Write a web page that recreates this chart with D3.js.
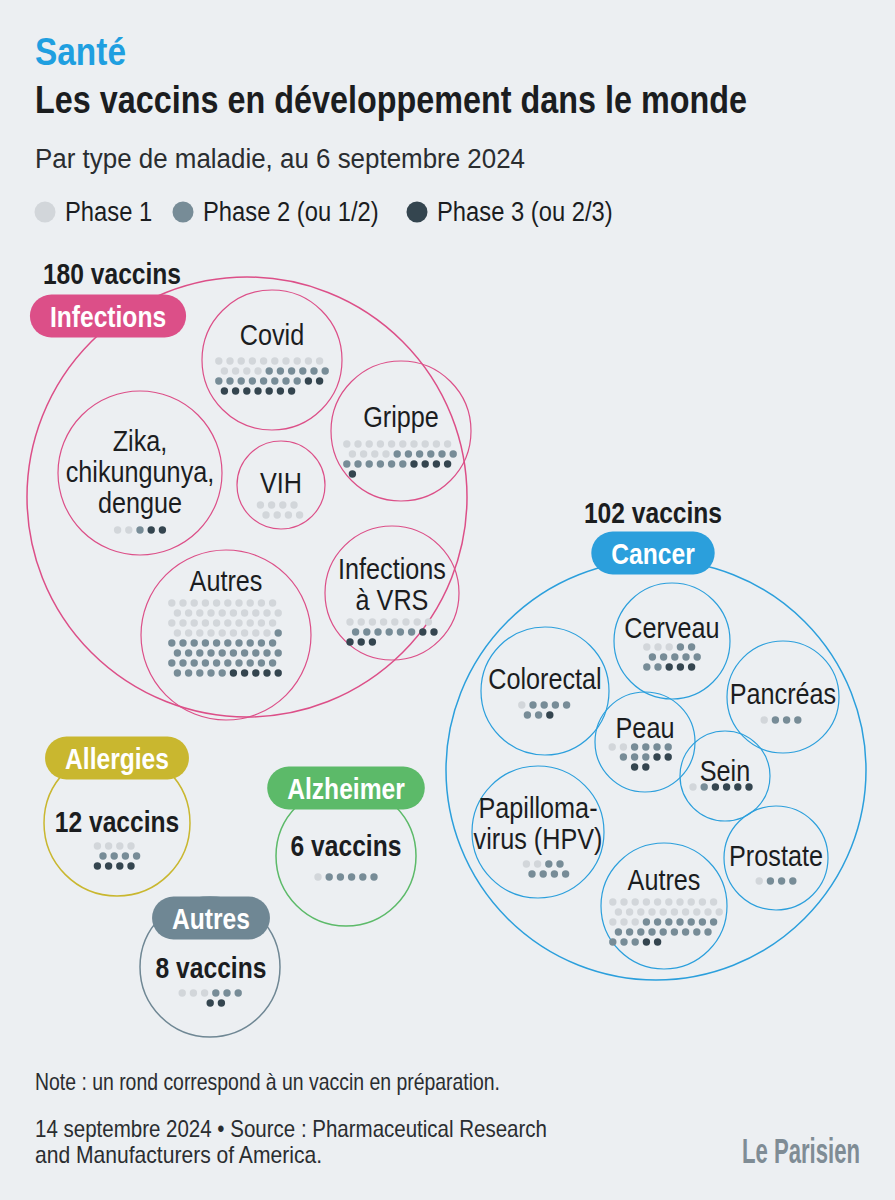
<!DOCTYPE html>
<html lang="fr">
<head>
<meta charset="utf-8">
<script src="https://cdn.jsdelivr.net/npm/d3@7"></script>
<style>
  body { margin: 0; background: #eceff2; }
  svg { display: block; font-family: "Liberation Sans", Arial, sans-serif; }
</style>
</head>
<body>
<div id="chart"></div>
<script>
///////////////////////////////////////////////////////////////////////////////
//// Data /////////////////////////////////////////////////////////////////////
///////////////////////////////////////////////////////////////////////////////
const phases = ["Phase 1", "Phase 2 (ou 1/2)", "Phase 3 (ou 2/3)"];

const groups = ["Infections", "Cancer", "Allergies", "Alzheimer", "Autres"];
const groupTotals = [180, 102, 12, 6, 8];

// Sub-categories of the two big groups
const diseases = ["Covid", "Grippe", "Zika, chikungunya, dengue", "VIH", "Autres", "Infections à VRS",
  "Cerveau", "Colorectal", "Pancréas", "Peau", "Sein", "Papillomavirus (HPV)", "Prostate", "Autres"];
const diseaseGroups = ["Infections", "Infections", "Infections", "Infections", "Infections", "Infections",
  "Cancer", "Cancer", "Cancer", "Cancer", "Cancer", "Cancer", "Cancer", "Cancer"];
const phase1 = [14, 14, 2, 8, 39, 8, 3, 1, 1, 2, 1, 2, 1, 23];
const phase2 = [14, 12, 1, 0, 36, 6, 9, 6, 3, 7, 1, 6, 3, 19];
const phase3 = [9, 5, 2, 0, 5, 5, 3, 1, 0, 4, 4, 0, 0, 2];

// Groups without sub-categories
const smallGroups = ["Allergies", "Alzheimer", "Autres"];
const smallPhase1 = [4, 1, 3];
const smallPhase2 = [4, 5, 3];
const smallPhase3 = [4, 0, 2];

///////////////////////////////////////////////////////////////////////////////
//// Layout ///////////////////////////////////////////////////////////////////
///////////////////////////////////////////////////////////////////////////////
const width = 895;
const height = 1200;
const narrow = 0.84; // horizontal squeeze to mimic the condensed house font

const groupLayout = {
  Infections: {cx: 247, cy: 497, r: 220, color: "#dc4f88", pill: [108, 316], total: [112, 284]},
  Cancer: {cx: 656, cy: 770, r: 210, color: "#2b9fdc", pill: [653, 553], total: [653, 523]},
  Allergies: {cx: 117, cy: 823, r: 73, color: "#c9b72f", pill: [117, 758], total: [117, 832], dotsY: 846, cols: 4},
  Alzheimer: {cx: 346, cy: 856, r: 70, color: "#5cba69", pill: [346, 788], total: [346, 856], dotsY: 877, cols: 6},
  Autres: {cx: 210, cy: 967, r: 70, color: "#6f8794", pill: [211, 918], total: [211, 978], dotsY: 993, cols: 6, align: "center", dotCx: 213}
};

// Same order as `diseases`
const diseaseLayout = [
  {cx: 272, cy: 360, r: 70, lines: ["Covid"], labelY: 345, dotsY: 361, cols: 10},
  {cx: 401, cy: 431, r: 70, lines: ["Grippe"], labelY: 427, dotsY: 444, cols: 10, dotCx: 400},
  {cx: 140, cy: 473, r: 82, lines: ["Zika,", "chikungunya,", "dengue"], labelY: 451, dotsY: 530, cols: 5},
  {cx: 281, cy: 485, r: 44, lines: ["VIH"], labelY: 493, dotsY: 505, cols: 4, dotCx: 280},
  {cx: 226, cy: 635, r: 85, lines: ["Autres"], labelY: 591, dotsY: 603, cols: 10, dotCx: 225},
  {cx: 392, cy: 593, r: 67, lines: ["Infections", "à VRS"], labelY: 579, dotsY: 622, cols: 8},
  {cx: 672, cy: 641, r: 58, lines: ["Cerveau"], labelY: 638, dotsY: 647, cols: 5},
  {cx: 545, cy: 691, r: 64, lines: ["Colorectal"], labelY: 689, dotsY: 705, cols: 5, dotCx: 547},
  {cx: 783, cy: 697, r: 56, lines: ["Pancréas"], labelY: 704, dotsY: 720, cols: 4, dotCx: 781},
  {cx: 645, cy: 742, r: 50, lines: ["Peau"], labelY: 738, dotsY: 747, cols: 6, dotCx: 643, rowSizes: [6, 5, 2], align: "center"},
  {cx: 725, cy: 776, r: 45, lines: ["Sein"], labelY: 781, dotsY: 787, cols: 6, dotCx: 721},
  {cx: 538, cy: 832, r: 66, lines: ["Papilloma-", "virus (HPV)"], labelY: 818, dotsY: 864, cols: 4, dotCx: 546},
  {cx: 776, cy: 858, r: 52, lines: ["Prostate"], labelY: 866, dotsY: 881, cols: 4},
  {cx: 664, cy: 906, r: 63, lines: ["Autres"], labelY: 890, dotsY: 902, cols: 10, dotCx: 666, rowSizes: [10, 10, 10, 9, 5]}
];

const dotStep = 11.2;   // horizontal spacing
const rowStep = 10;     // vertical spacing
const dotRadius = 3.7;
const lineHeight = 31;

const color = d3.scaleOrdinal()
  .domain(phases)
  .range(["#d2d6da", "#778c97", "#34454f"]);

const ink = "#1b1d1f";

///////////////////////////////////////////////////////////////////////////////
//// SVG ///////////////////////////////////////////////////////////////////////
///////////////////////////////////////////////////////////////////////////////
const svg = d3.select("#chart").append("svg")
  .attr("width", width)
  .attr("height", height);

svg.append("rect")
  .attr("width", width)
  .attr("height", height)
  .attr("fill", "#eceff2");

// Squeeze texts horizontally
function condense(sel, k = narrow) {
  sel.each(function() {
    const w = this.getComputedTextLength();
    this.__w = w * k;
    d3.select(this)
      .attr("textLength", w * k)
      .attr("lengthAdjust", "spacingAndGlyphs");
  });
  return sel;
}

/////////////////////////////////////////////////////////////////////////////
// Header
svg.append("text")
  .attr("x", 35)
  .attr("y", 65)
  .attr("fill", "#1f9fe0")
  .style("font-weight", "bold")
  .style("font-size", "38px")
  .attr("textLength", 91)
  .attr("lengthAdjust", "spacingAndGlyphs")
  .text("Santé");

svg.append("text")
  .attr("x", 35)
  .attr("y", 113)
  .attr("fill", ink)
  .style("font-weight", "bold")
  .style("font-size", "39px")
  .attr("textLength", 712)
  .attr("lengthAdjust", "spacingAndGlyphs")
  .text("Les vaccins en développement dans le monde");

svg.append("text")
  .attr("x", 35)
  .attr("y", 168)
  .attr("fill", "#2a2d30")
  .style("font-size", "27px")
  .attr("textLength", 490)
  .attr("lengthAdjust", "spacingAndGlyphs")
  .text("Par type de maladie, au 6 septembre 2024");

/////////////////////////////////////////////////////////////////////////////
// Legend
const legendX = [45, 183, 417];
const legend = svg.selectAll(".legend")
  .data(phases)
  .enter().append("g")
    .attr("class", "legend")
    .attr("transform", (d, i) => `translate(${legendX[i]}, 212)`);

legend.append("circle")
  .attr("r", 10.5)
  .attr("fill", d => color(d));

legend.append("text")
  .attr("x", 20)
  .attr("y", 9)
  .attr("fill", ink)
  .style("font-size", "27px")
  .text(d => d)
  .call(condense, 0.88);

/////////////////////////////////////////////////////////////////////////////
// Dots helper
function dotsFor(p1, p2, p3) {
  return [].concat(
    d3.range(p1).map(() => phases[0]),
    d3.range(p2).map(() => phases[1]),
    d3.range(p3).map(() => phases[2])
  );
}

function placeDots(dots, lay, cx) {
  const cols = lay.cols;
  let sizes = lay.rowSizes;
  if (!sizes) {
    sizes = [];
    for (let n = dots.length; n > 0; n -= cols) sizes.push(Math.min(cols, n));
  }
  const shift = sizes.length > 1 ? dotStep / 4 : 0;
  const x0 = cx - (cols - 1) / 2 * dotStep - shift;
  const out = [];
  let k = 0;
  sizes.forEach((inRow, row) => {
    let start = x0 + (row % 2 ? dotStep / 2 : 0);
    if (lay.align === "center" && inRow < cols) {
      start = cx - (inRow - 1) / 2 * dotStep + (row % 2 ? shift : -shift);
    }
    for (let c = 0; c < inRow && k < dots.length; c++, k++) {
      out.push({phase: dots[k], x: start + c * dotStep, y: lay.dotsY + row * rowStep});
    }
  });
  return out;
}

function drawDots(g, points) {
  g.selectAll(".dot")
    .data(points)
    .enter().append("circle")
      .attr("class", "dot")
      .attr("cx", d => d.x)
      .attr("cy", d => d.y)
      .attr("r", dotRadius)
      .attr("fill", d => color(d.phase));
}

/////////////////////////////////////////////////////////////////////////////
// Group circles
const groupG = svg.selectAll(".group")
  .data(groups)
  .enter().append("g")
    .attr("class", "group");

groupG.append("circle")
  .attr("cx", d => groupLayout[d].cx)
  .attr("cy", d => groupLayout[d].cy)
  .attr("r", d => groupLayout[d].r)
  .attr("fill", "none")
  .attr("stroke", d => groupLayout[d].color)
  .attr("stroke-width", 1.5);

/////////////////////////////////////////////////////////////////////////////
// Disease circles
const disease = svg.selectAll(".disease")
  .data(diseases.map((name, i) => ({
    name, group: diseaseGroups[i], lay: diseaseLayout[i],
    dots: dotsFor(phase1[i], phase2[i], phase3[i])
  })))
  .enter().append("g")
    .attr("class", "disease");

disease.append("circle")
  .attr("cx", d => d.lay.cx)
  .attr("cy", d => d.lay.cy)
  .attr("r", d => d.lay.r)
  .attr("fill", "none")
  .attr("stroke", d => groupLayout[d.group].color)
  .attr("stroke-width", 1.2);

disease.each(function(d) {
  const g = d3.select(this);
  g.selectAll(".label")
    .data(d.lay.lines)
    .enter().append("text")
      .attr("class", "label")
      .attr("x", d.lay.cx)
      .attr("y", (l, i) => d.lay.labelY + i * lineHeight)
      .attr("text-anchor", "middle")
      .attr("fill", ink)
      .style("font-size", "30px")
      .text(l => l)
      .call(condense);
  drawDots(g, placeDots(d.dots, d.lay, d.lay.dotCx || d.lay.cx));
});

/////////////////////////////////////////////////////////////////////////////
// Small groups: dots inside
smallGroups.forEach((name, i) => {
  const lay = groupLayout[name];
  const g = svg.append("g").attr("class", "small");
  drawDots(g, placeDots(dotsFor(smallPhase1[i], smallPhase2[i], smallPhase3[i]), lay, lay.dotCx || lay.cx));
});

// Totals
groupG.append("text")
  .attr("x", d => groupLayout[d].total[0])
  .attr("y", d => groupLayout[d].total[1])
  .attr("text-anchor", "middle")
  .attr("fill", ink)
  .style("font-weight", "bold")
  .style("font-size", "30px")
  .text((d, i) => `${groupTotals[i]} vaccins`)
  .call(condense, 0.82);

// Pills
groupG.each(function(d) {
  const lay = groupLayout[d];
  const g = d3.select(this).append("g")
    .attr("transform", `translate(${lay.pill[0]}, ${lay.pill[1]})`);
  const rect = g.append("rect");
  const t = g.append("text")
    .attr("y", 10.5)
    .attr("text-anchor", "middle")
    .attr("fill", "#fff")
    .style("font-weight", "bold")
    .style("font-size", "30px")
    .text(d)
    .call(condense, 0.82);
  const w = t.node().__w + 40;
  rect.attr("x", -w / 2)
    .attr("y", -21.5)
    .attr("width", w)
    .attr("height", 43)
    .attr("rx", 21.5)
    .attr("fill", lay.color);
});

/////////////////////////////////////////////////////////////////////////////
// Footer
const footer = [
  ["Note : un rond correspond à un vaccin en préparation.", 1090, 465],
  ["14 septembre 2024 • Source : Pharmaceutical Research", 1137, 512],
  ["and Manufacturers of America.", 1163, 287]
];
svg.selectAll(".footer")
  .data(footer)
  .enter().append("text")
    .attr("class", "footer")
    .attr("x", 35)
    .attr("y", d => d[1])
    .attr("fill", "#2a2d30")
    .style("font-size", "24px")
    .attr("textLength", d => d[2])
    .attr("lengthAdjust", "spacingAndGlyphs")
    .text(d => d[0]);

// Logo, squeezed with a transform so its box stays inside the page
const logo = svg.append("g")
  .attr("transform", "translate(742, 1163)");
const logoText = logo.append("text")
  .attr("fill", "#7f8c95")
  .style("font-weight", "bold")
  .style("font-size", "35px")
  .text("Le Parisien");
logo.attr("transform", `translate(742, 1163) scale(${118 / logoText.node().getComputedTextLength()}, 1)`);
</script>
</body>
</html>
